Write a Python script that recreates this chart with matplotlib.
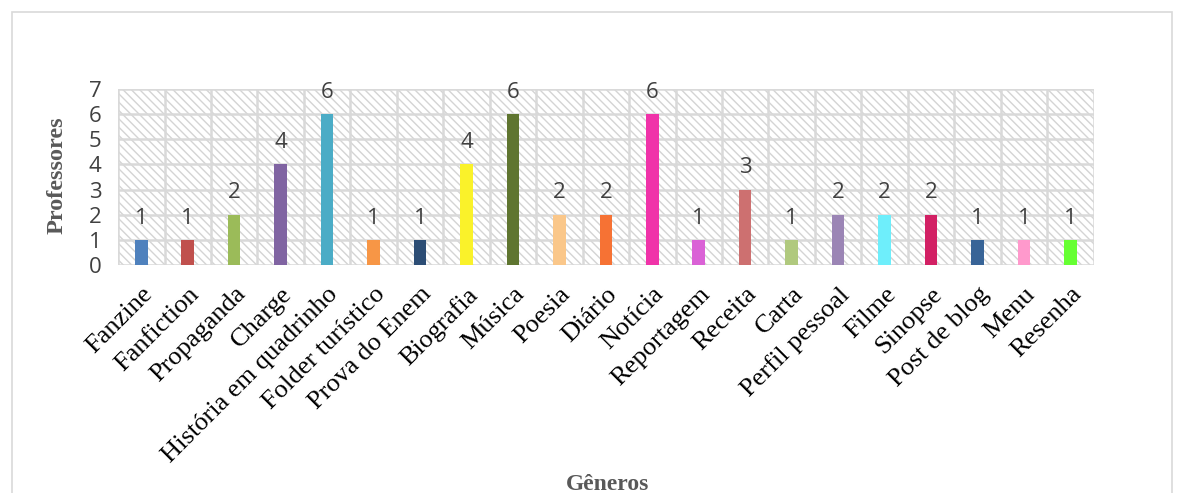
import matplotlib.pyplot as plt
from matplotlib.patches import Rectangle

# =========================
# Data
# =========================
generos = [
    "Fanzine", "Fanfiction", "Propaganda", "Charge", "História em quadrinho",
    "Folder turístico", "Prova do Enem", "Biografia", "Música", "Poesia",
    "Diário", "Notícia", "Reportagem", "Receita", "Carta", "Perfil pessoal",
    "Filme", "Sinopse", "Post de blog", "Menu", "Resenha",
]
professores = [1, 1, 2, 4, 6, 1, 1, 4, 6, 2, 2, 6, 1, 3, 1, 2, 2, 2, 1, 1, 1]
cores = [
    "#4F81BD", "#C0504D", "#9BBB59", "#8064A2", "#4BACC6",
    "#F79646", "#2C4D75", "#FAF22A", "#5F7530", "#FAC78A",
    "#F67234", "#F033A9", "#DA62D6", "#CD7070", "#B0C97E", "#9B85B5",
    "#6EEEFB", "#D22064", "#386497", "#FF99CC", "#66FF33",
]

GRID = "#D9D9D9"
TEXT = "#404040"

plt.rcParams["hatch.linewidth"] = 1.0

fig = plt.figure(figsize=(11.84, 4.93), dpi=100)
ax = fig.add_axes([0.0997, 0.4625, 0.824, 0.357])

# outer chart frame
fig.patches.append(Rectangle((0.0105, -0.01), 0.979, 0.986, transform=fig.transFigure,
                             fill=False, edgecolor=GRID, lw=1.2))

n = len(generos)
x = list(range(n))

# hatched plot background
ax.add_patch(Rectangle((0, 0), 1, 1, transform=ax.transAxes, fill=False,
                       hatch="\\\\\\\\", edgecolor="#D4D4D4", lw=0, zorder=0))

for i in range(n + 1):
    ax.axvline(i - 0.5, color=GRID, lw=1.8, zorder=1)
for v in range(8):
    ax.axhline(v, color=GRID, lw=1.8, zorder=1)

bars = ax.bar(x, professores, width=0.27, color=cores, zorder=3)
for b, v in zip(bars, professores):
    ax.text(b.get_x() + b.get_width() / 2, v + 0.45, str(v), ha="center", va="bottom",
            fontsize=16, color=TEXT, family="Open Sans", zorder=4)

ax.set_xlim(-0.5, n - 0.5)
ax.set_ylim(0, 7)
ax.set_yticks(range(8))
ax.set_yticklabels([str(v) for v in range(8)], fontsize=16, color=TEXT, family="Open Sans")
ax.set_xticks(x)
ax.set_xticklabels(generos, rotation=45, ha="right", va="top", rotation_mode="anchor",
                   fontsize=19, family="Liberation Serif", color="black")
ax.tick_params(axis="x", length=0, pad=13)
ax.tick_params(axis="y", length=0, pad=12)
for s in ax.spines.values():
    s.set_visible(False)

fig.text(0.048, 0.645, "Professores", rotation=90, ha="center", va="center",
         fontsize=17.5, fontweight="bold", family="Liberation Serif", color="#595959")
fig.text(0.513, 0.018, "Gêneros", ha="center", va="center",
         fontsize=17, fontweight="bold", family="Liberation Serif", color="#595959")

fig.savefig("out.png", dpi=100)
